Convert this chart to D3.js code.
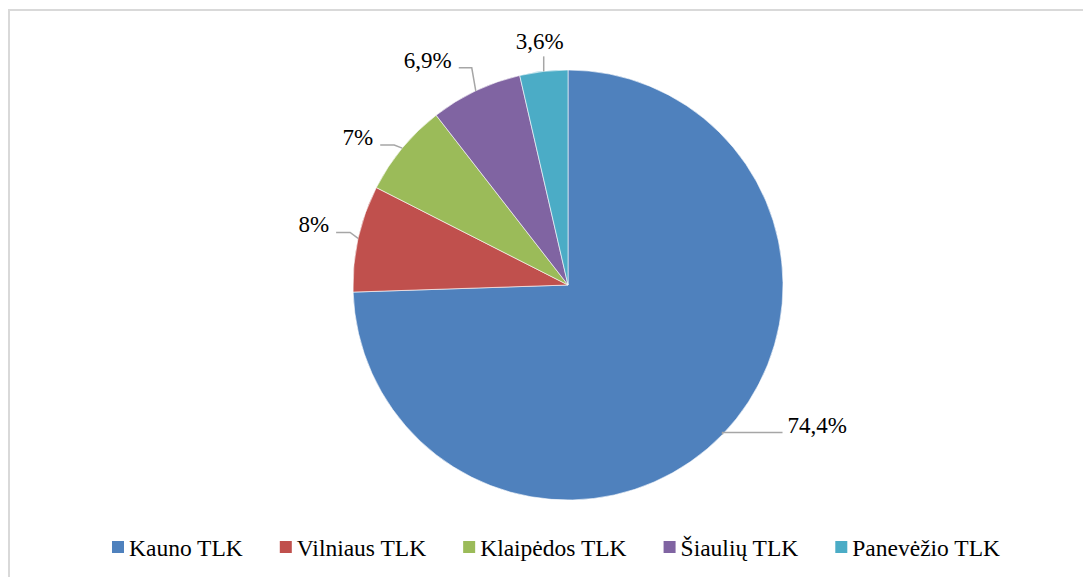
<!DOCTYPE html>
<html>
<head>
<meta charset="utf-8">
<script src="https://cdn.jsdelivr.net/npm/d3@7"></script>
<style>
  html, body { margin: 0; padding: 0; background: #ffffff; }
  svg { display: block; }
  svg text { font-family: "Liberation Serif", "DejaVu Serif", serif; }
</style>
</head>
<body>
<div id="chart"></div>
<script>
const categories = ["Kauno TLK", "Vilniaus TLK", "Klaipėdos TLK", "Šiaulių TLK", "Panevėžio TLK"];
const shares = [74.4, 8, 7, 6.9, 3.6];
const shareLabels = ["74,4%", "8%", "7%", "6,9%", "3,6%"];
const colors = ["#4F81BD", "#C0504D", "#9BBB59", "#8064A2", "#4BACC6"];

const width = 1083;
const height = 577;
const cx = 568;
const cy = 285;
const radius = 215;

// leader lines: elbow offset from the slice edge, then a horizontal run
const leaders = [
  { ex: 0,  ey: -2,  run: 60,  side: "right" },
  { ex: -8, ey: -6,  run: -14, side: "left" },
  { ex: -8, ey: -3,  run: -14, side: "left" },
  { ex: -4, ey: -23, run: -13, side: "left" },
  { ex: 0,  ey: -15, run: 0,   side: "top" }
];

const svg = d3.select("#chart").append("svg")
  .attr("width", width)
  .attr("height", height);

// chart frame (runs off the right/bottom edges)
svg.append("rect")
  .attr("x", 9)
  .attr("y", 10)
  .attr("width", width + 20)
  .attr("height", height + 20)
  .attr("fill", "none")
  .attr("stroke", "#d9d9d9")
  .attr("stroke-width", 2);

const pie = d3.pie().sort(null).value(d => d)(shares);
const arc = d3.arc().innerRadius(0).outerRadius(radius);
const g = svg.append("g").attr("transform", `translate(${cx},${cy})`);

g.selectAll("path.slice")
  .data(pie)
  .join("path")
  .attr("class", "slice")
  .attr("d", arc)
  .attr("fill", (d, i) => colors[i])
  .attr("stroke", "#ffffff")
  .attr("stroke-width", 0.6);

pie.forEach((d, i) => {
  const mid = (d.startAngle + d.endAngle) / 2;
  const px = Math.sin(mid) * radius;
  const py = -Math.cos(mid) * radius;
  const L = leaders[i];
  const bx = px + L.ex;
  const by = py + L.ey;
  const endX = bx + L.run;

  g.append("path")
    .attr("d", d3.line()([[px, py], [bx, by], [endX, by]]))
    .attr("fill", "none")
    .attr("stroke", "#a6a6a6")
    .attr("stroke-width", 1.5);

  const t = g.append("text")
    .attr("font-size", "23px")
    .attr("fill", "#000000")
    .text(shareLabels[i]);

  if (L.side === "right") {
    t.attr("x", endX + 5).attr("y", by + 1).attr("text-anchor", "start");
  } else if (L.side === "left") {
    t.attr("x", endX - 7).attr("y", by).attr("text-anchor", "end");
  } else {
    t.attr("x", bx - 4).attr("y", by - 7).attr("text-anchor", "middle");
  }
});

// legend
const legend = svg.append("g").attr("transform", "translate(112,541)");
let lx = 0;
categories.forEach((c, i) => {
  const item = legend.append("g").attr("transform", `translate(${lx},0)`);
  item.append("rect").attr("width", 12).attr("height", 12).attr("fill", colors[i]);
  const txt = item.append("text")
    .attr("x", 17)
    .attr("y", 15)
    .attr("font-size", "23.5px")
    .attr("fill", "#000000")
    .text(c);
  lx += 17 + txt.node().getComputedTextLength() + 37;
});
</script>
</body>
</html>
